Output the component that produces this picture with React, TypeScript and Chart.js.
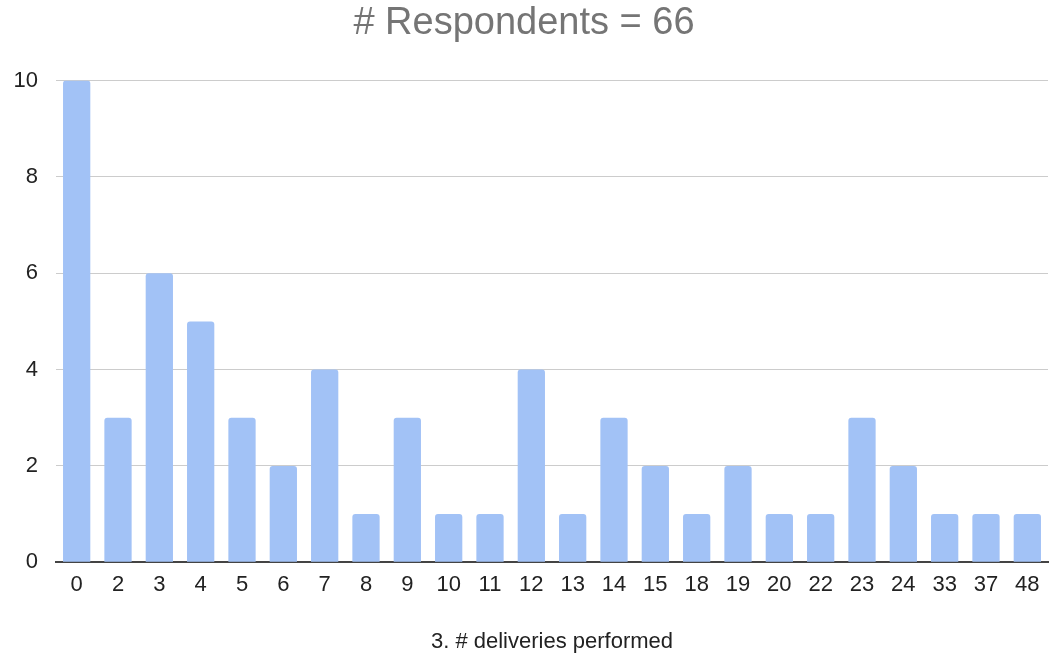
import React, { useEffect, useRef } from "react";
import { Chart, registerables } from "chart.js";

Chart.register(...registerables);

const categories = ["0", "2", "3", "4", "5", "6", "7", "8", "9", "10", "11", "12", "13", "14", "15", "18", "19", "20", "22", "23", "24", "33", "37", "48"];
const counts = [10, 3, 6, 5, 3, 2, 4, 1, 3, 1, 1, 4, 1, 3, 2, 1, 2, 1, 1, 3, 2, 1, 1, 1];
const yTicks = [0, 2, 4, 6, 8, 10];
const titleText = "# Respondents = 66";
const xAxisTitle = "3. # deliveries performed";

export default function App() {
  const ref = useRef<HTMLCanvasElement | null>(null);

  useEffect(() => {
    if (!ref.current) return;
    const font = "'Liberation Sans', Arial, sans-serif";
    const chart = new Chart(ref.current, {
      type: "bar",
      data: {
        labels: categories,
        datasets: [
          {
            data: counts,
            backgroundColor: "#a2c2f6",
            borderRadius: 3,
            categoryPercentage: 0.66,
            barPercentage: 1,
          },
        ],
      },
      options: {
        animation: false,
        responsive: false,
        maintainAspectRatio: false,
        layout: { padding: { left: 0, right: 16, top: 0, bottom: 5 } },
        plugins: {
          legend: { display: false },
          tooltip: { enabled: false },
          title: {
            display: true,
            text: titleText,
            color: "#757575",
            font: { family: font, size: 38, weight: "normal" },
            padding: { top: 1, bottom: 34 },
          },
        },
        scales: {
          x: {
            grid: { display: false, drawTicks: false },
            border: { display: true, color: "#444444", width: 2 },
            ticks: {
              color: "#222222",
              font: { family: font, size: 22 },
              padding: 10,
              maxRotation: 0,
              autoSkip: false,
            },
            title: {
              display: true,
              text: xAxisTitle,
              color: "#222222",
              font: { family: font, size: 22 },
              padding: { top: 20, bottom: 0 },
            },
          },
          y: {
            min: 0,
            max: 10,
            z: 1,
            afterFit: (scale: any) => {
              scale.width = 56;
            },
            afterBuildTicks: (scale: any) => {
              scale.ticks = yTicks.map((v) => ({ value: v }));
            },
            grid: { color: "rgba(0,0,0,0.2)", drawTicks: false, lineWidth: 1 },
            border: { display: false },
            ticks: {
              color: "#222222",
              font: { family: font, size: 22 },
              padding: 18,
            },
          },
        },
      },
    });
    return () => chart.destroy();
  }, []);

  return (
    <div style={{ position: "fixed", left: 0, top: 0, width: 1064, height: 660, background: "#fff" }}>
      <canvas ref={ref} width={1064} height={660} style={{ display: "block" }} />
    </div>
  );
}
